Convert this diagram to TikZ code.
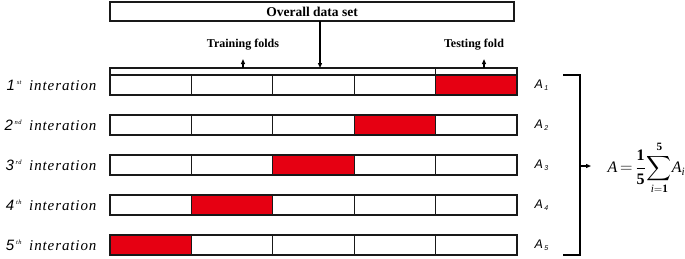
\documentclass[tikz,border=0pt]{standalone}
\usepackage{amsmath}
\usepackage{fontspec}
\setmainfont{Liberation Serif}
\setsansfont{Liberation Sans}
\newfontfamily\iterfont[LetterSpace=6]{Liberation Serif}
\usetikzlibrary{positioning, arrows.meta, calc}
\definecolor{foldred}{RGB}{230,0,18}

\begin{document}
\begin{tikzpicture}[x=1pt, y=-1pt, >={Triangle[length=5pt,width=4pt]}, line width=1.1pt]
    % Styles
    \tikzstyle{cell} = [rectangle, draw=black!90, fill=white, minimum width=81.4pt, minimum height=20pt, inner sep=0pt, outer sep=0pt]
    \tikzstyle{iter} = [inner sep=0pt, font=\fontsize{15}{17}\selectfont\iterfont\itshape]
    \tikzstyle{accu} = [inner sep=0pt, font=\fontsize{12.5}{14}\selectfont\sffamily\itshape]
    \tikzstyle{lab} = [inner sep=0pt, font=\fontsize{12}{14}\selectfont\bfseries]

    \useasboundingbox (0,0) rectangle (685,258);

    % Nodes
    \node [cell, minimum width=404pt, minimum height=19pt, font=\fontsize{13.5}{15}\selectfont\bfseries] (overall) at (312,11.5) {Overall data set};
    \node [cell, minimum width=325.6pt, minimum height=7pt, anchor=south west] (train) at (110,75) {};
    \node [cell, minimum height=7pt, right=0pt of train] (test) {};
    \node [lab] (trainlab) at (243,45) {Training folds};
    \node [lab] (testlab) at (474,45) {Testing fold};

    \foreach \r/\ord in {1/st,2/nd,3/rd,4/th,5/th} {
        \pgfmathtruncatemacro\hot{6-\r}
        \foreach \c in {1,...,5} {
            \ifnum\c=\hot \def\shade{foldred}\else\def\shade{white}\fi
            \node [cell, fill=\shade] (c\r\c) at ({110+81.4*(\c-0.5)},{85+40*(\r-1)}) {};
        }
        \node [iter, left=13pt of c\r1] (lab\r) {{\sffamily\r}\textsuperscript{\,\fontsize{6.5}{6.5}\selectfont\ord}\, interation};
        \node [accu, right=17pt of c\r5] (acc\r) {A\textsubscript{\,\fontsize{7}{7}\selectfont\r}};
    }

    % Bracket
    \coordinate (btop) at (563,75);
    \coordinate (bbot) at (563,255);
    \coordinate (bmid) at (580,166);
    \node [inner sep=0pt, anchor=west, font=\fontsize{16}{18}\selectfont] (avg) at (607,168) {$\displaystyle \mathit{A}\mkern-2mu=\mkern-2mu\frac{\mathbf{1}}{\mathbf{5}}\mkern-2mu\sum_{\mathit{i}=\mathbf{1}}^{\mathbf{5}}\mkern-3mu \mathit{A}_{\mathit{i}}$};

    % Arrows
    \draw [->] ([xshift=8pt]overall.south) -- ([xshift=8pt]overall.south |- train.north);
    \draw [->, shorten >=8pt] (train.north -| trainlab.south) -- (trainlab.south);
    \draw [->, shorten >=8pt] ([xshift=10pt]testlab.south |- test.north) -- ([xshift=10pt]testlab.south);
    \draw (btop) -| (bmid) |- (bbot);
    \draw [->, shorten >=16pt] (bmid) -- (bmid -| avg.west);
\end{tikzpicture}
\end{document}
